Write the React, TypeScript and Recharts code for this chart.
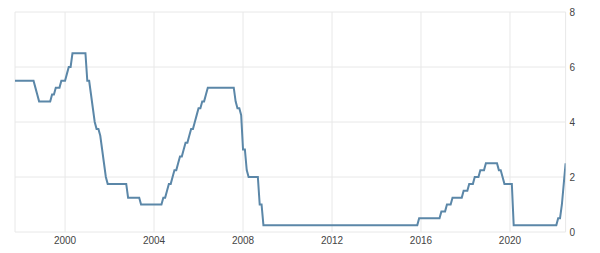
import React from 'react';
import { LineChart, Line, XAxis, YAxis, CartesianGrid } from 'recharts';

const months: string[] = [
  '1997-10','1998-08','1998-09','1998-10','1998-11','1999-05','1999-06','1999-07','1999-08','1999-10',
  '1999-11','2000-01','2000-02','2000-03','2000-04','2000-05','2000-12','2001-01','2001-02','2001-03',
  '2001-04','2001-05','2001-06','2001-07','2001-08','2001-09','2001-10','2001-11','2001-12','2002-10',
  '2002-11','2003-05','2003-06','2004-05','2004-06','2004-07','2004-08','2004-09','2004-10','2004-11',
  '2004-12','2005-01','2005-02','2005-03','2005-04','2005-05','2005-06','2005-07','2005-08','2005-09',
  '2005-10','2005-11','2005-12','2006-01','2006-02','2006-03','2006-04','2006-05','2006-06','2007-08',
  '2007-09','2007-10','2007-11','2007-12','2008-01','2008-02','2008-03','2008-04','2008-09','2008-10',
  '2008-11','2008-12','2015-11','2015-12','2016-11','2016-12','2017-02','2017-03','2017-05','2017-06',
  '2017-11','2017-12','2018-02','2018-03','2018-05','2018-06','2018-08','2018-09','2018-11','2018-12',
  '2019-06','2019-07','2019-08','2019-09','2019-10','2020-02','2020-03','2022-02','2022-03','2022-04',
  '2022-05','2022-06','2022-07',
];

const rates: number[] = [
  5.5,5.5,5.25,5.0,4.75,4.75,5.0,5.0,5.25,5.25,
  5.5,5.5,5.75,6.0,6.0,6.5,6.5,5.5,5.5,5.0,
  4.5,4.0,3.75,3.75,3.5,3.0,2.5,2.0,1.75,1.75,
  1.25,1.25,1.0,1.0,1.25,1.25,1.5,1.75,1.75,2.0,
  2.25,2.25,2.5,2.75,2.75,3.0,3.25,3.25,3.5,3.75,
  3.75,4.0,4.25,4.5,4.5,4.75,4.75,5.0,5.25,5.25,
  4.75,4.5,4.5,4.25,3.0,3.0,2.25,2.0,2.0,1.0,
  1.0,0.25,0.25,0.5,0.5,0.75,0.75,1.0,1.0,1.25,
  1.25,1.5,1.5,1.75,1.75,2.0,2.0,2.25,2.25,2.5,
  2.5,2.25,2.25,2.0,1.75,1.75,0.25,0.25,0.5,0.5,
  1.0,1.75,2.5,
];

const yearTicks: number[] = [2000, 2004, 2008, 2012, 2016, 2020];
const valueTicks: number[] = [0, 2, 4, 6, 8];

const data = months.map((m, i) => {
  const [y, mo] = m.split('-').map(Number);
  return { t: y + (mo - 1) / 12, v: rates[i] };
});

export default function App() {
  return (
    <div style={{ position: 'absolute', left: 0, top: 0, width: 600, height: 253, background: '#fff' }}>
      <LineChart width={600} height={253} data={data} margin={{ top: 12, right: 0, left: 15, bottom: 0 }}>
        <CartesianGrid stroke="#e8e8e8" strokeWidth={1} verticalPoints={undefined} />
        <XAxis
          dataKey="t"
          type="number"
          domain={[1997.75, 2022.5]}
          ticks={yearTicks}
          allowDataOverflow
          axisLine={false}
          tickLine={false}
          tickSize={0}
          tickMargin={5}
          height={21}
          tick={{ fontSize: 10, fill: '#444', fontFamily: 'Liberation Sans, Arial, sans-serif' }}
        />
        <YAxis
          orientation="right"
          type="number"
          domain={[0, 8]}
          ticks={valueTicks}
          axisLine={false}
          tickLine={false}
          tickSize={0}
          tickMargin={4}
          width={34.4}
          tick={{ fontSize: 10, fill: '#444', fontFamily: 'Liberation Sans, Arial, sans-serif', textAnchor: 'start' }}
        />
        <Line
          type="linear"
          dataKey="v"
          stroke="#5b87a8"
          strokeWidth={2}
          dot={false}
          isAnimationActive={false}
        />
      </LineChart>
    </div>
  );
}
